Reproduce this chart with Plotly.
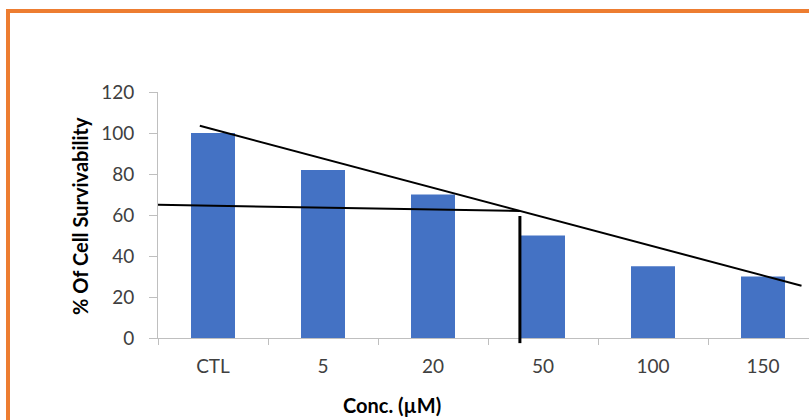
import plotly.graph_objects as go

# Cell survivability at each concentration
categories = ["CTL", "5", "20", "50", "100", "150"]
survivability = [100, 82, 70, 50, 35, 30]
y_ticks = [0, 20, 40, 60, 80, 100, 120]

# Hand-drawn guide lines (x in category index units, y in % survivability)
trend_x = [-0.12, 5.35]
trend_y = [103.5, 25.5]
ic50_h_x = [-0.5, 2.79]
ic50_h_y = [65, 62]
ic50_v_x = [2.79, 2.79]
ic50_v_y = [59.5, -2.5]

W, H = 809, 420
L, R, T, B = 158, 0, 92, 82
plot_w = W - L - R
plot_h = H - T - B
cat_w = 110.0
x_range = [-0.5, -0.5 + plot_w / cat_w]
y_range = [0, 120]


def px_x(px):
    return (px - L) / plot_w


def px_y(py):
    return (H - B - py) / plot_h


def y_paper(v):
    return (v - y_range[0]) / (y_range[1] - y_range[0])


xs = list(range(len(categories)))

fig = go.Figure()
fig.add_trace(go.Bar(
    x=xs, y=survivability, width=0.4,
    marker=dict(color="#4472C4", line=dict(width=0)),
    hoverinfo="skip",
))

axis_font = dict(family="Lato, Open Sans, sans-serif", size=19, color="#404040")

fig.update_layout(
    width=W, height=H,
    margin=dict(l=L, r=R, t=T, b=B, pad=0),
    paper_bgcolor="white", plot_bgcolor="white",
    showlegend=False,
    bargap=0.6,
    xaxis=dict(
        range=x_range, tickmode="array", tickvals=xs, ticktext=categories,
        ticks="", showgrid=False, zeroline=False,
        showline=True, linecolor="#BFBFBF", linewidth=1,
        tickfont=axis_font, ticklabelstandoff=11,
        minor=dict(tick0=-0.5, dtick=1, ticks="outside", ticklen=6,
                   tickcolor="#BFBFBF", tickwidth=1, showgrid=False),
    ),
    yaxis=dict(
        range=y_range, tickmode="array", tickvals=y_ticks,
        ticks="outside", ticklen=8, tickcolor="#BFBFBF", tickwidth=1,
        showgrid=False, zeroline=False,
        showline=True, linecolor="#BFBFBF", linewidth=1,
        tickfont=axis_font, ticklabelstandoff=11,
    ),
)

# guide lines
fig.add_shape(type="line", xref="x", yref="y",
              x0=trend_x[0], y0=trend_y[0], x1=trend_x[1], y1=trend_y[1],
              line=dict(color="black", width=2))
fig.add_shape(type="line", xref="x", yref="y",
              x0=ic50_h_x[0], y0=ic50_h_y[0], x1=ic50_h_x[1], y1=ic50_h_y[1],
              line=dict(color="black", width=2))
fig.add_shape(type="line", xref="x", yref="paper",
              x0=ic50_v_x[0], y0=y_paper(ic50_v_y[0]),
              x1=ic50_v_x[1], y1=y_paper(ic50_v_y[1]),
              line=dict(color="black", width=3))

# orange frame
fig.add_shape(type="rect", xref="paper", yref="paper",
              x0=px_x(8), y0=px_y(440), x1=px_x(830), y1=px_y(11),
              line=dict(color="#ED7D31", width=4), fillcolor="rgba(0,0,0,0)",
              layer="above")

title_font = dict(family="Lato, Open Sans, sans-serif", size=20, color="black")
fig.add_annotation(text="<b>% Of Cell Survivability</b>", xref="paper", yref="paper",
                   x=px_x(80), y=px_y(216), textangle=-90, showarrow=False,
                   font=title_font, xanchor="center", yanchor="middle")
fig.add_annotation(text="<b>Conc. (µM)</b>", xref="paper", yref="paper",
                   x=px_x(392), y=px_y(405), showarrow=False,
                   font=title_font, xanchor="center", yanchor="middle")

fig.write_html("out.html")
